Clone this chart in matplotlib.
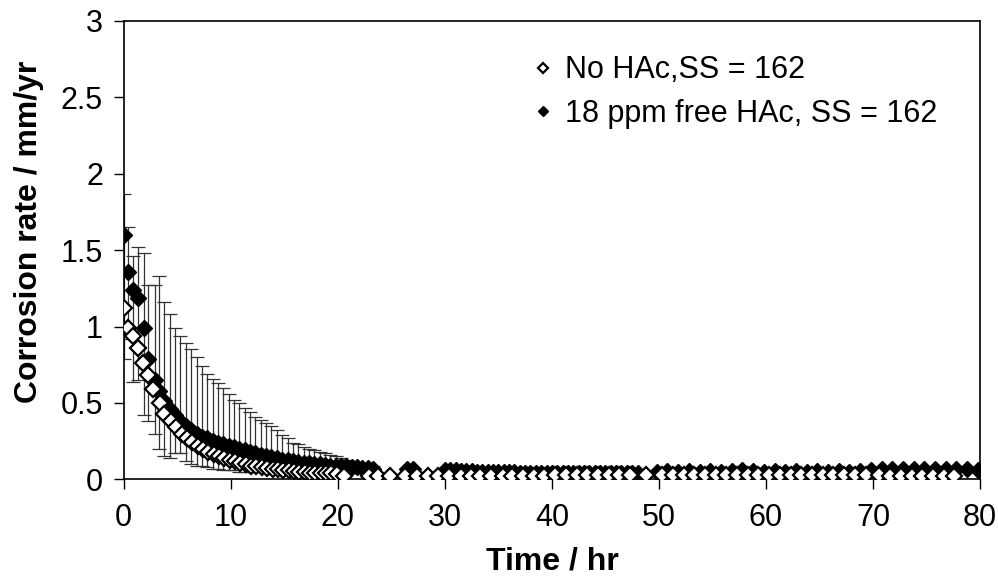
import numpy as np
import matplotlib
matplotlib.use("Agg")
import matplotlib.pyplot as plt

plt.rcParams['font.family'] = ['Liberation Sans', 'DejaVu Sans']

# 18 ppm free HAc, SS = 162 (filled diamonds)
t_hac = [0, 0.4, 0.9, 1.3, 1.9, 2.3, 2.9, 3.3, 3.8, 4.3,
         4.8, 5.3, 5.8, 6.3, 6.8, 7.3, 7.8, 8.3, 8.8, 9.3,
         9.8, 10.3, 10.8, 11.3, 11.8, 12.3, 12.8, 13.3, 13.8, 14.3,
         14.8, 15.3, 15.8, 16.3, 16.8, 17.3, 17.8, 18.3, 18.8, 19.3,
         19.8, 20.3, 20.8, 21.3, 21.8, 22.3, 22.8, 23.3,
         26.5, 27.0,
         30.0, 30.5, 31.0, 31.5, 32.0, 32.5, 33.0, 33.5, 34.0, 34.5,
         35.0, 35.5, 36.0, 36.5, 37.0, 37.5, 38.0, 38.5, 39.0, 39.5,
         40.0, 40.5, 41.0, 41.5, 42.0, 42.5, 43.0, 43.5, 44.0, 44.5,
         45.0, 45.5, 46.0, 46.5, 47.0, 47.5, 48.0,
         49.8, 50.8, 51.8, 52.8, 53.8, 54.8, 55.8, 56.8, 57.8, 58.8,
         59.8, 60.8, 61.8, 62.8, 63.8, 64.8, 65.8, 66.8, 67.8, 68.8,
         69.8, 70.8, 71.8, 72.8, 73.8, 74.8, 75.8, 76.8, 77.8, 78.8,
         79.8]
cr_hac = [1.60, 1.36, 1.24, 1.19, 0.99, 0.79, 0.65, 0.58, 0.51, 0.46,
          0.42, 0.38, 0.35, 0.32, 0.30, 0.28, 0.27, 0.25, 0.24, 0.23,
          0.22, 0.21, 0.20, 0.19, 0.18, 0.17, 0.16, 0.15, 0.145, 0.14,
          0.13, 0.125, 0.12, 0.115, 0.11, 0.105, 0.10, 0.10, 0.095, 0.09,
          0.09, 0.085, 0.085, 0.08, 0.08, 0.075, 0.075, 0.07,
          0.07, 0.07,
          0.06, 0.06, 0.06, 0.055, 0.055, 0.055, 0.05, 0.05, 0.05, 0.05,
          0.05, 0.05, 0.05, 0.05, 0.045, 0.045, 0.045, 0.045, 0.045, 0.045,
          0.045, 0.045, 0.045, 0.045, 0.045, 0.045, 0.045, 0.045, 0.045, 0.045,
          0.045, 0.045, 0.045, 0.045, 0.045, 0.045, 0.045,
          0.05, 0.055, 0.05, 0.055, 0.05, 0.055, 0.05, 0.055, 0.06, 0.055,
          0.05, 0.055, 0.05, 0.055, 0.05, 0.055, 0.05, 0.055, 0.05, 0.055,
          0.06, 0.07, 0.07, 0.07, 0.07, 0.07, 0.07, 0.07, 0.07, 0.07,
          0.06]
# error bar ends for the first 48 points of the filled series
hi_hac = [1.87, 1.65, 1.46, 1.52, 1.48, 1.27, 1.27, 1.33, 1.16, 1.08,
          0.99, 0.94, 0.89, 0.85, 0.80, 0.74, 0.69, 0.66, 0.63, 0.60,
          0.56, 0.52, 0.50, 0.47, 0.44, 0.41, 0.39, 0.37, 0.35, 0.32,
          0.29, 0.27, 0.24, 0.23, 0.21, 0.20, 0.19, 0.18, 0.17, 0.16,
          0.15, 0.14, 0.13, 0.12, 0.11, 0.10, 0.09, 0.09]
lo_hac = [0.79, 0.92, 0.64, 0.65, 0.42, 0.38, 0.30, 0.20, 0.15, 0.14,
          0.17, 0.17, 0.12, 0.10, 0.09, 0.09, 0.08, 0.07, 0.07, 0.06,
          0.06, 0.06, 0.05, 0.05, 0.05, 0.05, 0.05, 0.05, 0.04, 0.04,
          0.04, 0.04, 0.04, 0.04, 0.04, 0.04, 0.04, 0.04, 0.04, 0.04,
          0.04, 0.04, 0.04, 0.04, 0.04, 0.04, 0.04, 0.04]

# No HAc, SS = 162 (open diamonds)
t_no = [0, 0.4, 0.9, 1.3, 1.8, 2.3, 2.7, 3.4, 3.8, 4.4,
        4.9, 5.4, 5.9, 6.4, 6.9, 7.4, 7.9, 8.4, 8.9, 9.4,
        9.9, 10.4, 10.9, 11.4, 11.9, 12.4, 12.9, 13.4, 13.9, 14.4,
        14.9, 15.4, 15.9, 16.4, 16.9, 17.4, 17.9, 18.4, 18.9, 19.4,
        19.9, 20.6, 22.9, 23.8, 24.9, 26.3, 27.4, 28.4, 29.4, 30.4,
        31.5, 32.4, 33.3, 34.3, 35.4, 36.3, 37.3, 38.3, 39.3, 40.3,
        41.3, 42.3, 43.3, 44.3, 45.3, 46.3, 47.3, 48.8, 50.3, 51.3,
        52.3, 53.3, 54.3, 55.3, 56.3, 57.3, 58.3, 59.3, 60.3, 61.3,
        62.3, 63.3, 64.3, 65.3, 66.3, 67.3, 68.3, 69.3, 70.6, 71.6,
        72.6, 73.6, 74.6, 75.6, 76.6, 77.6]
cr_no = [1.12, 0.99, 0.94, 0.86, 0.76, 0.68, 0.59, 0.50, 0.43, 0.38,
         0.34, 0.30, 0.27, 0.245, 0.22, 0.20, 0.18, 0.165, 0.15, 0.14,
         0.13, 0.12, 0.11, 0.10, 0.09, 0.085, 0.08, 0.075, 0.07, 0.065,
         0.06, 0.06, 0.055, 0.05, 0.05, 0.045, 0.045, 0.04, 0.04, 0.04,
         0.035, 0.025, 0.02, 0.02, 0.02, 0.02, 0.02, 0.02, 0.02, 0.02,
         0.02, 0.02, 0.02, 0.02, 0.02, 0.02, 0.02, 0.02, 0.02, 0.03,
         0.03, 0.03, 0.03, 0.03, 0.03, 0.03, 0.03, 0.03, 0.03, 0.03,
         0.03, 0.03, 0.03, 0.03, 0.03, 0.03, 0.03, 0.03, 0.03, 0.03,
         0.03, 0.03, 0.03, 0.03, 0.03, 0.03, 0.03, 0.03, 0.03, 0.025,
         0.025, 0.025, 0.025, 0.025, 0.025, 0.025]

fig = plt.figure(figsize=(9.98, 5.79), dpi=100)
ax = fig.add_axes([0.124, 0.172, 0.858, 0.792])

n_err = len(hi_hac)
y_err = np.array(cr_hac[:n_err])
yerr = [y_err - np.array(lo_hac), np.array(hi_hac) - y_err]
ax.errorbar(t_hac[:n_err], y_err, yerr=yerr, fmt='none', ecolor='0.2',
            elinewidth=0.9, capsize=5, capthick=0.9, zorder=1)

ax.plot(t_hac, cr_hac, linestyle='none', marker='D', ms=8.5, color='black',
        mec='black', label='18 ppm free HAc, SS = 162', zorder=2)
ax.plot(t_no, cr_no, linestyle='none', marker='D', ms=8, mfc='white',
        mec='black', mew=1.6, label='No HAc,SS = 162', zorder=3)

ax.set_xlim(0, 80)
ax.set_ylim(0, 3)
ax.set_xticks(np.arange(0, 81, 10))
ax.set_yticks([0, 0.5, 1, 1.5, 2, 2.5, 3])
ax.set_yticklabels(['0', '0.5', '1', '1.5', '2', '2.5', '3'])
ax.tick_params(axis='both', direction='out', length=7, width=1, labelsize=22)
ax.tick_params(axis='x', pad=10)
ax.tick_params(axis='y', pad=8)
for s in ax.spines.values():
    s.set_linewidth(1.2)

ax.set_xlabel('Time / hr', fontsize=23, fontweight='bold', labelpad=10)
ax.set_ylabel('Corrosion rate / mm/yr', fontsize=23, fontweight='bold')
ax.yaxis.set_label_coords(-0.093, 0.54)

h, l = ax.get_legend_handles_labels()
ax.legend(h[::-1], l[::-1], loc='upper left', bbox_to_anchor=(0.447, 0.985),
          frameon=False, fontsize=22, markerscale=0.6, handlelength=0.6,
          handletextpad=0.4, labelspacing=0.45)

fig.savefig('out.png', dpi=100)
